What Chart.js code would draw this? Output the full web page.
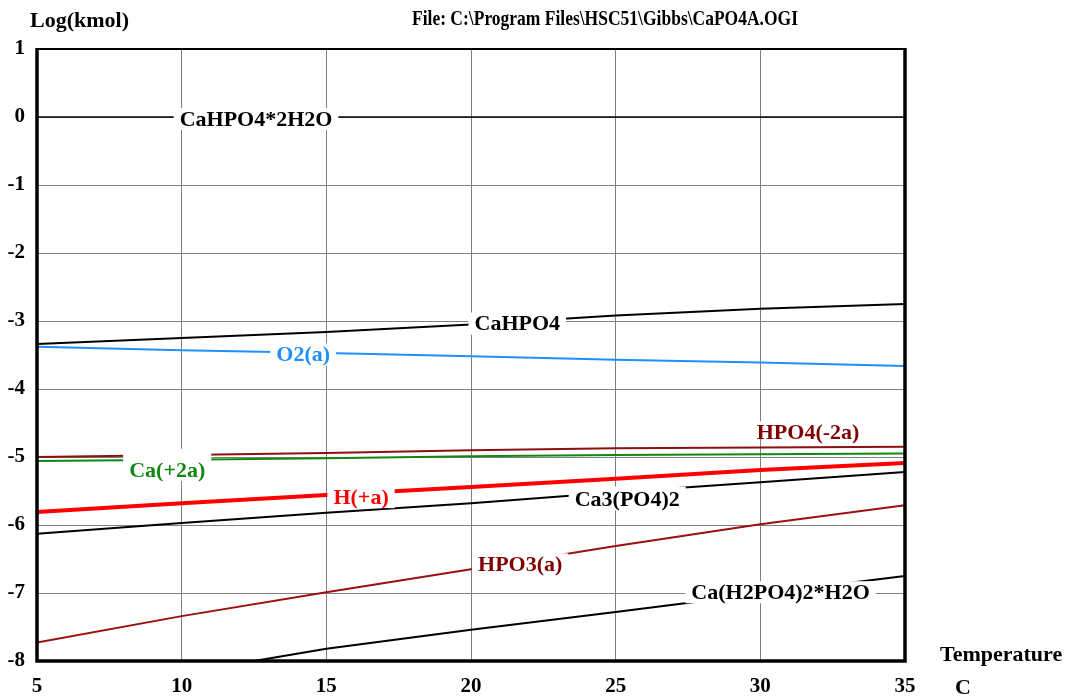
<!DOCTYPE html>
<html>
<head>
<meta charset="utf-8">
<script src="https://cdn.jsdelivr.net/npm/chart.js@4/dist/chart.umd.min.js"></script>
<style>
html,body{margin:0;padding:0;background:#fff;}
#wrap{width:1072px;height:700px;}
</style>
</head>
<body>
<div id="wrap"><canvas id="c" width="1072" height="700"></canvas></div>
<script>
// ---- data ----
const temps = [5, 10, 15, 20, 25, 30, 35];
const cahpo4_2h2o = [0, 0, 0, 0, 0, 0, 0];
const cahpo4 = [-3.34, -3.25, -3.16, -3.05, -2.92, -2.82, -2.75];
const o2a = [-3.38, -3.43, -3.47, -3.52, -3.57, -3.61, -3.66];
const hpo4 = [-5.00, -4.97, -4.94, -4.90, -4.87, -4.86, -4.85];
const ca2a = [-5.06, -5.04, -5.02, -4.99, -4.97, -4.96, -4.95];
const hplus = [-5.81, -5.68, -5.56, -5.44, -5.32, -5.19, -5.09];
const ca3po42 = [-6.13, -5.97, -5.82, -5.68, -5.52, -5.37, -5.22];
const hpo3 = [-7.73, -7.34, -6.99, -6.65, -6.31, -5.99, -5.71];
const cah2po4Temps = [12.5, 15, 20, 25, 30, 35];
const cah2po4 = [-8.0, -7.82, -7.54, -7.28, -7.01, -6.75];
const yTicks = [1, 0, -1, -2, -3, -4, -5, -6, -7, -8];
const xTicks = [5, 10, 15, 20, 25, 30, 35];

const seriesNames = ['CaHPO4*2H2O', 'CaHPO4', 'O2(a)', 'HPO4(-2a)', 'Ca(+2a)', 'H(+a)', 'Ca3(PO4)2', 'HPO3(a)', 'Ca(H2PO4)2*H2O'];

function pts(xs, ys) { return xs.map((x, i) => ({x: x, y: ys[i]})); }

const FONT = 'bold 22px "Liberation Serif", "Times New Roman", serif';
const TITLE_FONT = 'bold 21px "Liberation Serif", "Times New Roman", serif';

// label placement (text drawn on its curve)
const labelCfg = [
  {ds: 0, x: 12.57, dy: 2, color: '#000000'},
  {ds: 1, x: 21.6, dy: 2, color: '#000000'},
  {ds: 2, x: 14.2, dy: 2, color: '#1e8fff'},
  {ds: 3, x: 31.65, dy: -15, color: '#800000', padBottom: 4},
  {ds: 4, x: 9.5, dy: 10, color: '#118811', padTop: 21},
  {ds: 5, x: 16.2, dy: 4, color: '#ff0000'},
  {ds: 6, x: 25.4, dy: 8, color: '#000000', padTop: 13},
  {ds: 7, x: 21.7, dy: 3, color: '#800000'},
  {ds: 8, x: 30.7, dy: 1, color: '#000000'}
];

function interp(data, x) {
  for (let i = 0; i < data.length - 1; i++) {
    if (x >= data[i].x && x <= data[i + 1].x) {
      const t = (x - data[i].x) / (data[i + 1].x - data[i].x);
      return data[i].y + t * (data[i + 1].y - data[i].y);
    }
  }
  return data[data.length - 1].y;
}

const labelsPlugin = {
  id: 'curveLabels',
  afterDatasetsDraw(chart) {
    const ctx = chart.ctx;
    const xs = chart.scales.x, ys = chart.scales.y;
    ctx.save();
    ctx.font = FONT;
    ctx.textAlign = 'center';
    ctx.textBaseline = 'middle';
    labelCfg.forEach(l => {
      const ds = chart.data.datasets[l.ds];
      const px = xs.getPixelForValue(l.x);
      const py = ys.getPixelForValue(interp(ds.data, l.x)) + l.dy;
      const text = ds.label;
      const w = ctx.measureText(text).width;
      const pt = l.padTop !== undefined ? l.padTop : 11;
      const pb = l.padBottom !== undefined ? l.padBottom : 11;
      ctx.fillStyle = '#ffffff';
      ctx.fillRect(px - w / 2 - 6, py - pt, w + 12, pt + pb);
      ctx.fillStyle = l.color;
      ctx.fillText(text, px, py + 1);
    });
    ctx.restore();
  }
};

const framePlugin = {
  id: 'frame',
  afterDraw(chart) {
    const ctx = chart.ctx;
    const a = chart.chartArea;
    ctx.save();
    ctx.strokeStyle = '#000';
    ctx.lineWidth = 2;
    ctx.beginPath();
    ctx.moveTo(a.left, a.top); ctx.lineTo(a.right, a.top);
    ctx.stroke();
    ctx.lineWidth = 3.5;
    ctx.beginPath();
    ctx.moveTo(a.left, a.top - 1); ctx.lineTo(a.left, a.bottom);
    ctx.lineTo(a.right, a.bottom); ctx.lineTo(a.right, a.top - 1);
    ctx.stroke();
    // titles
    ctx.fillStyle = '#000';
    ctx.textBaseline = 'middle';
    ctx.textAlign = 'left';
    ctx.font = FONT;
    ctx.fillText('Log(kmol)', 30, 21);
    ctx.fillText('Temperature', 940, 655);
    ctx.fillText('C', 955, 688);
    ctx.font = TITLE_FONT;
    ctx.fillText('File: C:\\Program Files\\HSC51\\Gibbs\\CaPO4A.OGI', 412, 20, 386);
    ctx.restore();
  }
};

const lineDs = (label, data, color, width) => ({
  label: label, data: data, borderColor: color, backgroundColor: color,
  borderWidth: width, pointRadius: 0, fill: false, tension: 0
});

new Chart(document.getElementById('c'), {
  type: 'line',
  data: {
    datasets: [
      lineDs(seriesNames[0], pts(temps, cahpo4_2h2o), '#000000', 1.5),
      lineDs(seriesNames[1], pts(temps, cahpo4), '#000000', 2),
      lineDs(seriesNames[2], pts(temps, o2a), '#1e8fff', 2),
      lineDs(seriesNames[3], pts(temps, hpo4), '#8b1010', 2),
      lineDs(seriesNames[4], pts(temps, ca2a), '#118811', 2),
      lineDs(seriesNames[5], pts(temps, hplus), '#ff0000', 4),
      lineDs(seriesNames[6], pts(temps, ca3po42), '#000000', 2),
      lineDs(seriesNames[7], pts(temps, hpo3), '#991111', 2),
      lineDs(seriesNames[8], pts(cah2po4Temps, cah2po4), '#000000', 2)
    ]
  },
  options: {
    responsive: false,
    animation: false,
    layout: {padding: {left: 0, top: 49, right: 167, bottom: 0}},
    plugins: {legend: {display: false}, tooltip: {enabled: false}},
    scales: {
      x: {
        type: 'linear', min: 5, max: 35,
        afterBuildTicks: s => { s.ticks = xTicks.map(v => ({value: v})); },
        afterFit: s => { s.height = 39; },
        grid: {color: '#808080', lineWidth: 1, drawTicks: false},
        border: {display: false},
        ticks: {color: '#000', font: {family: '"Liberation Serif"', size: 21, weight: 'bold'}, padding: 13, maxRotation: 0}
      },
      y: {
        type: 'linear', min: -8, max: 1,
        afterBuildTicks: s => { s.ticks = yTicks.map(v => ({value: v})); },
        afterFit: s => { s.width = 37; },
        grid: {color: '#808080', lineWidth: 1, drawTicks: false},
        border: {display: false},
        ticks: {color: '#000', font: {family: '"Liberation Serif"', size: 21, weight: 'bold'}, padding: 12}
      }
    }
  },
  plugins: [labelsPlugin, framePlugin]
});
</script>
</body>
</html>
